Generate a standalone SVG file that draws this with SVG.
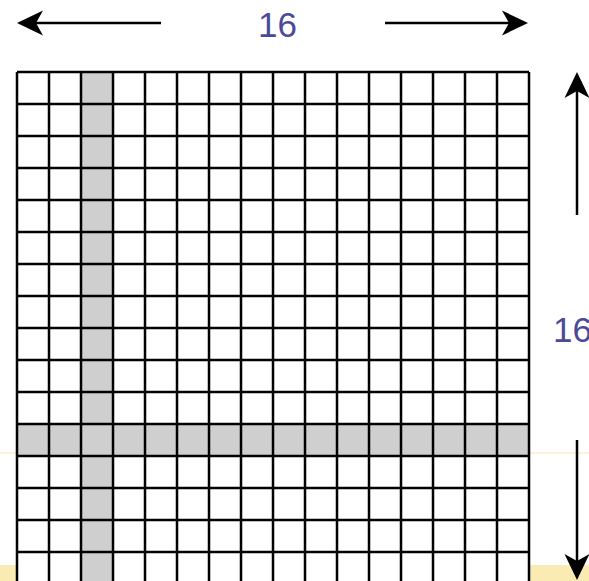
<svg xmlns="http://www.w3.org/2000/svg" width="589" height="581" viewBox="0 0 589 581">
  <defs>
    <style>
      .lbl { font-family: "Liberation Sans", Arial, sans-serif; font-size: 35px; fill: #4b4a99; }
      .grid { stroke: #000; stroke-width: 2.5; fill: none; }
      .arr { stroke: #000; stroke-width: 2.5; fill: none; marker-end: url(#head); }
    </style>
    <marker id="head" viewBox="-27 -14 28 28" markerWidth="28" markerHeight="28" refX="-10" refY="0" orient="auto" markerUnits="userSpaceOnUse">
      <path d="M0,0 L-26,-12.5 L-19,0 L-26,12.5 Z" fill="#000"/>
    </marker>
  </defs>
  <rect width="589" height="581" fill="#fff"/>
  <g id="background">
    <rect x="0" y="452.5" width="589" height="1" fill="#f7e6bb"/>
    <rect x="0" y="565" width="589" height="16" fill="#faebb2"/>
  </g>
  <g id="grid">
    <rect x="17" y="72" width="512" height="520" fill="#fff"/>
    <rect x="81" y="72" width="32" height="520" fill="#cfcfcf"/>
    <rect x="17" y="424" width="512" height="32" fill="#cfcfcf"/>
    <path class="grid" d="M17,72V600M49,72V600M81,72V600M113,72V600M145,72V600M177,72V600M209,72V600M241,72V600M273,72V600M305,72V600M337,72V600M369,72V600M401,72V600M433,72V600M465,72V600M497,72V600M529,72V600
      M17,72H529M17,104H529M17,136H529M17,168H529M17,200H529M17,232H529M17,264H529M17,296H529M17,328H529M17,360H529M17,392H529M17,424H529M17,456H529M17,488H529M17,520H529M17,552H529M17,584H529"/>
  </g>
  <g id="connectors">
    <path class="arr" d="M161,23H27"/>
    <path class="arr" d="M385,23H518"/>
    <path class="arr" d="M577,215V82"/>
    <path class="arr" d="M577,440V570"/>
  </g>
  <g id="label-top"><text class="lbl" x="258" y="37">16</text></g>
  <g id="label-right"><text class="lbl" x="553" y="342">16</text></g>
</svg>
